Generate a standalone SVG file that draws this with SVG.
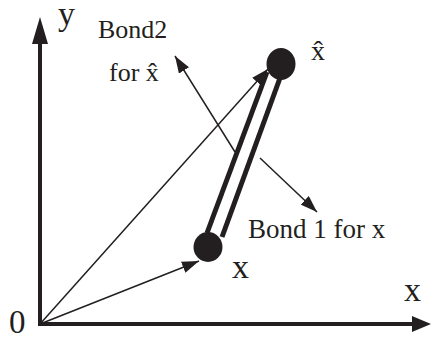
<svg xmlns="http://www.w3.org/2000/svg" width="431" height="339" viewBox="0 0 431 339">
<style>
.t{font-family:"Liberation Serif","Times New Roman",serif;fill:#231f20}
.thin{stroke:#231f20;stroke-width:1.5;fill:none}
.axis{stroke:#231f20;stroke-width:4;fill:none}
.bond{stroke:#231f20;stroke-width:5;fill:none}
.dot{fill:#231f20}
</style>
<defs>
<marker id="ah" markerUnits="userSpaceOnUse" markerWidth="18" markerHeight="12" refX="17" refY="6" orient="auto">
<path d="M0,0 L17,6 L0,12 z" fill="#231f20"/>
</marker>
</defs>
<rect width="431" height="339" fill="#fff"/>
<g id="axes">
<line class="axis" x1="40" y1="326" x2="40" y2="40"/>
<polygon points="40,17 48,44 32,44" fill="#231f20"/>
<line class="axis" x1="38" y1="324" x2="414" y2="324"/>
<polygon points="431,324 412,316 412,332" fill="#231f20"/>
</g>
<g id="connectors">
<line class="thin" x1="40" y1="324" x2="268" y2="69" marker-end="url(#ah)"/>
<line class="thin" x1="40" y1="324" x2="199" y2="261" marker-end="url(#ah)"/>
<line class="thin" x1="235" y1="152" x2="175" y2="56" marker-end="url(#ah)"/>
<line class="thin" x1="260" y1="158" x2="317" y2="212" marker-end="url(#ah)"/>
<line class="bond" x1="207" y1="233" x2="267" y2="72"/>
<line class="bond" x1="222" y1="237" x2="280" y2="78"/>
</g>
<g id="node-xhat">
<ellipse class="dot" cx="281" cy="64" rx="14.5" ry="16"/>
<text class="t" x="311" y="60" font-size="28">x̂</text>
</g>
<g id="node-x">
<ellipse class="dot" cx="208" cy="247" rx="14.5" ry="15"/>
<text class="t" x="232" y="278" font-size="34">x</text>
</g>
<g id="labels">
<text class="t" x="58" y="25" font-size="34">y</text>
<text class="t" x="404" y="301" font-size="34">x</text>
<text class="t" x="9" y="333" font-size="33">0</text>
<text class="t" x="98" y="38" font-size="26">Bond2</text>
<text class="t" x="109" y="81" font-size="26">for x̂</text>
<text class="t" x="248" y="238" font-size="27">Bond 1 for x</text>
</g>
</svg>
